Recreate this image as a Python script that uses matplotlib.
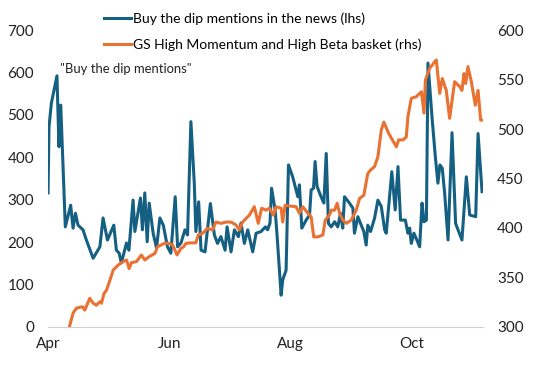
import matplotlib
matplotlib.use("Agg")
import matplotlib.pyplot as plt
import matplotlib.dates as mdates
import pandas as pd

start = pd.Timestamp("2025-04-01")

# days since 1 Apr and values
blue_day = [0, 0.5, 1.7, 4.5, 5.5, 6.4, 8.7, 11.4, 12.6, 13.8, 15.1, 17.6, 19.3, 22.7,
            26.1, 27.7, 29.9, 33.1, 34.4, 35.8, 36.9, 39.5, 40.7, 42.8, 43.7, 46.5,
            47.5, 48.7, 49.9, 50.9, 52.9, 54.6, 56.3, 58, 60.1, 61.8, 64, 65.2, 66.9,
            68.9, 70.2, 71.9, 73.6, 74.4, 75.8, 77, 79, 81.7, 83.7, 85.3, 87, 89.1,
            90.1, 92.1, 93.8, 95.8, 97.1, 98.8, 100.5, 103, 104.7, 107.2, 109.4, 110.5,
            111.7, 112.5, 114.3, 115.3, 117.3, 118.1, 119.8, 121, 123.1, 124.8, 125.7,
            126.5, 127.7, 129.9, 131.6, 132.4, 133.6, 134.4, 135.4, 137.4, 138.8, 140,
            141.1, 142.5, 144.2, 145.8, 147.2, 148.3, 149.2, 151.7, 153.4, 154.2, 155.9,
            157.6, 158.9, 160.1, 160.9, 162.3, 164.3, 166, 167.7, 169.4, 170.2, 173,
            174.7, 176.1, 177.4, 179.8, 181.1, 182, 182.8, 184.1, 185.6, 187, 188.2,
            189.2, 190.4, 191.2, 193.2, 194.9, 196.2, 197.2, 198.4, 199.6, 201.3, 203.3,
            205.1, 208.3, 210.5, 212.2, 215.2, 216.4, 218.4]
blue_val = [316, 472, 528, 592, 425, 523, 236, 287, 233, 268, 240, 229, 205, 162,
            189, 257, 205, 240, 181, 174, 151, 198, 181, 299, 225, 304,
            229, 316, 201, 292, 221, 186, 257, 240, 189, 174, 307, 189, 198,
            229, 217, 484, 339, 225, 295, 181, 177, 291, 217, 197, 213, 181,
            236, 177, 229, 213, 245, 197, 229, 177, 221, 225, 236, 229,
            245, 327, 276, 213, 75, 111, 134, 382, 354, 323, 307,
            335, 233, 252, 264, 323, 327, 390, 331, 307, 292, 409,
            244, 236, 248, 236, 268, 233, 307, 292, 280, 221, 260,
            240, 225, 193, 240, 225, 256, 299, 284, 229, 221, 366,
            276, 378, 252, 252, 221, 233, 197, 221, 205, 189, 292,
            248, 252, 622, 496, 401, 339, 382, 374, 315, 205, 458,
            244, 205, 354, 264, 260, 456, 319]

orange_day = [10.6, 12.6, 14.3, 17.3, 18.5, 21, 22.7, 24.3, 26.1, 26.9, 28.2, 29.4,
              31.1, 32.8, 35.3, 37.8, 39.5, 40.8, 42, 44.5, 47, 48.7, 50.9, 53.8,
              55.1, 58.5, 61, 62.7, 64.9, 66.9, 68.2, 69.4, 71.9, 74.4, 75.6, 77.8,
              80.3, 82.8, 84.5, 87, 89.6, 92.1, 94.6, 96.3, 97.9, 101.3, 103.8, 105.8,
              107.5, 109.7, 111.4, 113.4, 114.8, 117.3, 118.1, 119.3, 122.3, 124.8,
              126.5, 128.2, 130.7, 132.4, 133.7, 135.7, 138.3, 139.5, 141.6, 142.5,
              144.2, 145.5, 146.7, 148.3, 150.1, 152.6, 155.1, 156.8, 158.9, 160.9,
              162.3, 164.3, 166, 167.7, 169, 171.4, 175.3, 176.4, 178.6, 180.3, 181.1,
              182.8, 185.3, 187.9, 189.2, 189.9, 192, 194.6, 195.4, 197.1, 198.4,
              200.4, 202.1, 204.6, 207.2, 208.3, 209.3, 210.2, 211.3, 213, 215, 216.4,
              217.7, 218.9]
orange_val = [299, 314, 319, 320.5, 317, 329, 324, 322, 325.5, 324, 334, 337,
              347, 357.5, 362.6, 366, 367.7, 359, 365, 366, 372.7, 367.7, 371, 374.4,
              381, 384.5, 384.5, 383, 372.7, 379.5, 381, 384.5, 385, 385, 393, 394.6,
              399.7, 398, 406, 404.7, 406, 406, 403, 398, 406, 413, 421.5, 404.7,
              420, 418, 420, 413, 421.5, 420, 406, 423, 422, 421.5,
              415, 421.5, 415, 411.4, 391, 391, 393, 408, 413, 418,
              418, 425, 415, 408, 404.7, 408, 418, 430, 433, 455,
              458.6, 462, 472, 499, 507, 495.6, 482, 489, 489, 492, 512.4,
              531, 532.6, 537.7, 516, 549.5, 561, 568, 569.7, 536, 551,
              539, 510.8, 547.8, 542.7, 539, 556, 546, 563, 548, 524, 539,
              509, 509]

blue_label = "Buy the dip mentions in the news (lhs)"
orange_label = "GS High Momentum and High Beta basket (rhs)"

blue_dates = start + pd.to_timedelta(blue_day, unit="D")
orange_dates = start + pd.to_timedelta(orange_day, unit="D")

plt.rcParams["font.family"] = ["Lato", "DejaVu Sans"]

fig = plt.figure(figsize=(5.42, 3.66), dpi=100)
ax = fig.add_axes([0.0886, 0.1066, 0.8026, 0.8114])
ax2 = ax.twinx()

l1, = ax.plot(blue_dates, blue_val, color="#156082", lw=2.2, label=blue_label)
l2, = ax2.plot(orange_dates, orange_val, color="#E97132", lw=2.2, label=orange_label)

ax.set_xlim(blue_dates[0], orange_dates[-1])
ax.set_ylim(0, 700)
ax2.set_ylim(300, 600)
ax.set_yticks(range(0, 701, 100))
ax2.set_yticks(range(300, 601, 50))

ax.xaxis.set_major_locator(mdates.MonthLocator(bymonth=[4, 6, 8, 10]))
ax.xaxis.set_major_formatter(mdates.DateFormatter("%b"))

for a in (ax, ax2):
    for s in a.spines.values():
        s.set_visible(False)
    a.tick_params(length=0, labelsize=11, colors="#222222")
ax.spines["bottom"].set_visible(True)
ax.spines["bottom"].set_color("#d0d0d0")
ax.tick_params(axis="y", pad=10)
ax2.tick_params(axis="y", pad=10)
ax.tick_params(axis="x", pad=7)

ax.text(0.028, 0.855, '"Buy the dip mentions"', transform=ax.transAxes,
        fontsize=9.4, color="#222222")

fig.legend([l1, l2], [blue_label, orange_label], loc="upper left",
           bbox_to_anchor=(0.168, 1.0), frameon=False, fontsize=10,
           handlelength=2.0, handletextpad=0.15, labelspacing=0.95)

fig.savefig("out.png", dpi=100)
